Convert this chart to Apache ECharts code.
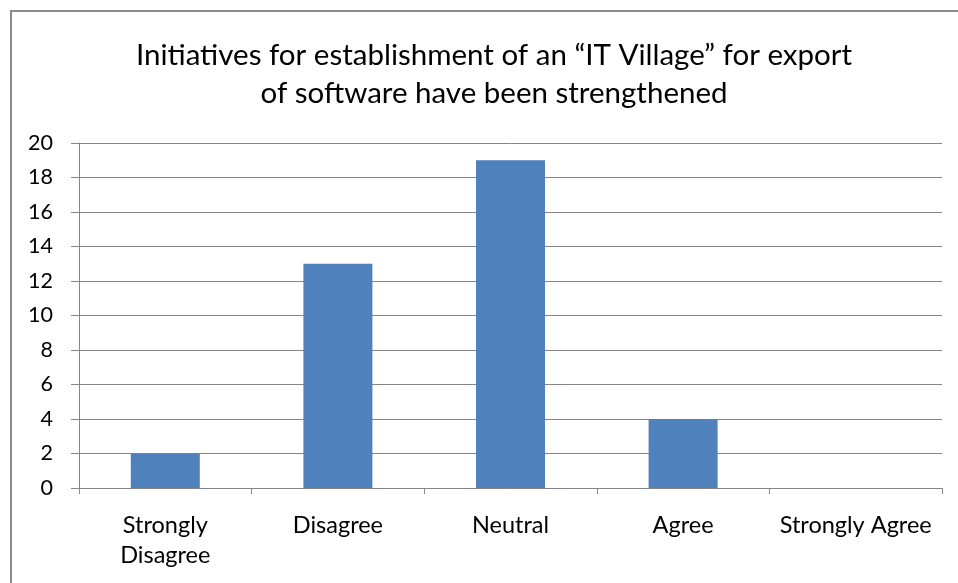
<!DOCTYPE html>
<html>
<head>
<meta charset="utf-8">
<script src="https://cdn.jsdelivr.net/npm/echarts@6/dist/echarts.min.js"></script>
<style>
  html, body { margin: 0; padding: 0; background: #fff; }
  #main { width: 958px; height: 583px; }
</style>
</head>
<body>
<div id="main"></div>
<script>
var categories = ['Strongly\nDisagree', 'Disagree', 'Neutral', 'Agree', 'Strongly Agree'];
var counts = [2, 13, 19, 4, 0];
var yTicks = [0, 2, 4, 6, 8, 10, 12, 14, 16, 18, 20];

var chart = echarts.init(document.getElementById('main'));
chart.setOption({
    backgroundColor: '#fff',
    animation: false,
    title: {
        text: 'Initiatives for establishment of an \u201CIT Village\u201D for export\nof software have been strengthened',
        left: 489,
        textAlign: 'center',
        top: 31,
        textStyle: {
            fontFamily: 'Lato',
            fontWeight: 'normal',
            fontSize: 29.5,
            lineHeight: 38,
            color: '#000'
        }
    },
    graphic: [{
        type: 'rect',
        shape: { x: 11, y: 11, width: 960, height: 600 },
        style: { fill: 'none', stroke: '#8c8c8c', lineWidth: 2 },
        silent: true
    }],
    grid: { left: 79, right: 16, top: 143, bottom: 95 },
    xAxis: {
        type: 'category',
        data: categories,
        axisLine: { lineStyle: { color: '#868686', width: 1 } },
        axisTick: { show: true, alignWithLabel: false, length: 6, lineStyle: { color: '#868686' } },
        axisLabel: {
            interval: 0,
            margin: 22,
            fontFamily: 'Lato',
            fontSize: 23.5,
            lineHeight: 30,
            color: '#000'
        }
    },
    yAxis: {
        type: 'value',
        min: 0,
        max: 20,
        interval: 2,
        axisLine: { show: true, lineStyle: { color: '#868686', width: 1 } },
        axisTick: { show: true, length: 8, lineStyle: { color: '#868686' } },
        splitLine: { lineStyle: { color: '#868686', width: 1 } },
        axisLabel: {
            margin: 26,
            fontFamily: 'Lato',
            fontSize: 21.5,
            color: '#000',
            formatter: function (v) { return yTicks.indexOf(v) >= 0 ? String(v) : ''; }
        }
    },
    series: [{
        type: 'bar',
        data: counts,
        barWidth: 69,
        itemStyle: { color: '#4f81bd' }
    }]
});
</script>
</body>
</html>
